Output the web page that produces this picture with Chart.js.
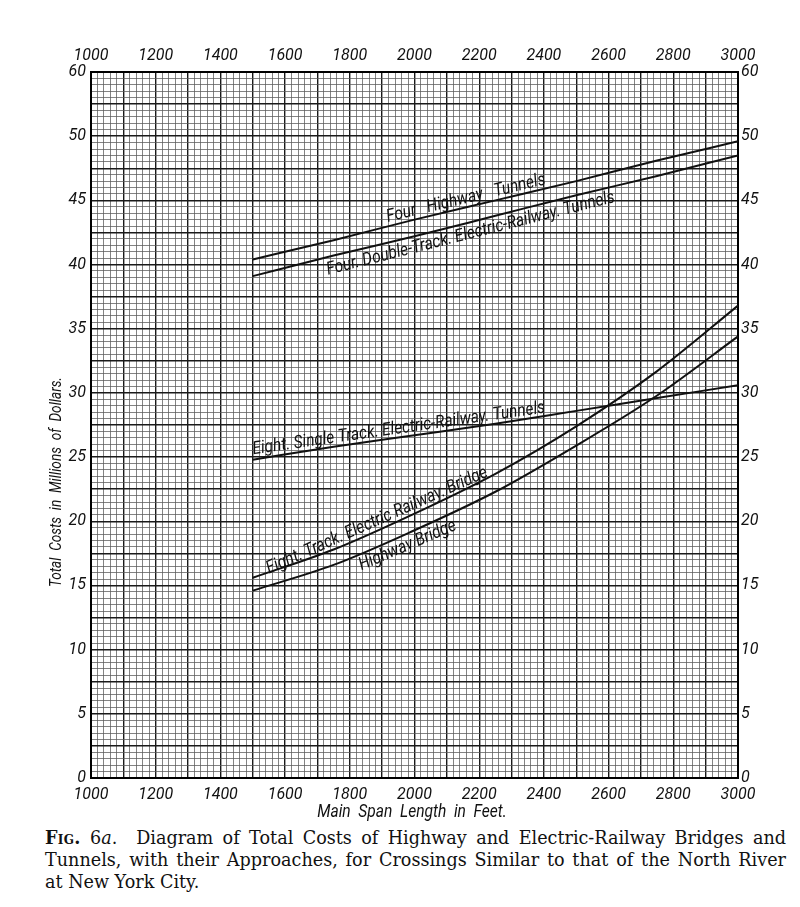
<!DOCTYPE html>
<html>
<head>
<meta charset="utf-8">
<title>Fig. 6a</title>
<script src="https://cdn.jsdelivr.net/npm/chart.js@4.4.1/dist/chart.umd.min.js"></script>
<style>
  html, body { margin: 0; padding: 0; background: #fff; }
  #wrap { position: relative; width: 800px; height: 826px; }
  #caption {
    position: absolute; left: 45px; top: 827px; width: 741px;
    font-family: 'DejaVu Serif', 'Liberation Serif', serif;
    font-size: 17.6px; line-height: 22px; color: #111;
  }
  #caption div { text-align: justify; text-align-last: justify; white-space: nowrap; }
  #caption div.last { text-align-last: left; }
  .fig { font-variant: small-caps; font-weight: bold; letter-spacing: 0.3px; }
</style>
</head>
<body>
<div id="wrap"><canvas id="chart" width="800" height="826"></canvas></div>
<div id="caption">
  <div><span class="fig">Fig.</span> 6<i>a</i>.&nbsp; Diagram of Total Costs of Highway and Electric-Railway Bridges and</div>
  <div>Tunnels, with their Approaches, for Crossings Similar to that of the North River</div>
  <div class="last">at New York City.</div>
</div>

<script>
// main span length (feet) where values were read
const spanFeet = [1500, 1750, 2000, 2250, 2500, 2750, 3000];

// total costs, millions of dollars
const fourHighwayTunnels      = [40.4, 41.9, 43.5, 45.0, 46.5, 48.1, 49.6];
const fourDoubleTrackTunnels  = [39.1, 40.7, 42.2, 43.8, 45.4, 46.9, 48.5];
const eightSingleTrackTunnels = [24.8, 25.8, 26.7, 27.6, 28.6, 29.6, 30.6];
const eightTrackRailwayBridge = [15.6, 17.8, 20.6, 23.7, 27.4, 31.7, 36.8];
const highwayBridge           = [14.6, 16.6, 19.3, 22.3, 25.9, 29.8, 34.4];

const seriesNames = [
    'Four   Highway   Tunnels',
    'Four. Double-Track. Electric-Railway. Tunnels',
    'Eight. Single Track. Electric-Railway. Tunnels',
    'Eight. Track. Electric Railway. Bridge',
    'Highway Bridge'
];

// tick labels as printed (the top line of the paper is 55 but carries "60")
const xTickValues = [1000, 1200, 1400, 1600, 1800, 2000, 2200, 2400, 2600, 2800, 3000];
const yTickValues = [0, 5, 10, 15, 20, 25, 30, 35, 40, 45, 50, 55];
const yTickLabels = ['0', '5', '10', '15', '20', '25', '30', '35', '40', '45', '50', '60'];

// where along each curve its name is lettered (feet) and on which side
const labelAt   = [2165, 2165, 1955, 1895, 1965];
const labelSide = ['above', 'below', 'above', 'above', 'below'];

const handFont = "Roboto, 'DejaVu Sans', sans-serif";

function toPoints(values) {
    return spanFeet.map((x, i) => ({ x: x, y: values[i] }));
}

const allSeries = [fourHighwayTunnels, fourDoubleTrackTunnels, eightSingleTrackTunnels,
                   eightTrackRailwayBridge, highwayBridge];

const datasets = allSeries.map((vals, i) => ({
    label: seriesNames[i],
    data: toPoints(vals),
    borderColor: '#111',
    borderWidth: 2,
    pointRadius: 0,
    fill: false,
    cubicInterpolationMode: 'monotone'
}));

function xLabel(v) { return xTickValues.includes(v) ? String(v) : ''; }
function yLabel(v) {
    const i = yTickValues.indexOf(v);
    return i >= 0 ? yTickLabels[i] : '';
}

const tickFont = { family: handFont, style: 'italic', size: 16 };

// narrow hand lettering
function squeezedText(ctx, text, x, y, sx) {
    ctx.save();
    ctx.translate(x, y);
    ctx.scale(sx, 1);
    ctx.fillText(text, 0, 0);
    ctx.restore();
}

const letteringPlugin = {
    id: 'lettering',
    afterDatasetsDraw(chart) {
        const ctx = chart.ctx;
        const xs = chart.scales.x;
        ctx.save();
        ctx.fillStyle = '#111';

        ctx.font = 'italic 19px ' + handFont;
        ctx.textAlign = 'center';
        ctx.textBaseline = 'middle';
        squeezedText(ctx, 'Main  Span  Length  in  Feet.', 412, 812, 0.82);

        ctx.save();
        ctx.translate(57, 482);
        ctx.rotate(-Math.PI / 2);
        ctx.font = 'italic 17px ' + handFont;
        squeezedText(ctx, 'Total  Costs  in  Millions  of  Dollars.', 0, 0, 0.8);
        ctx.restore();

        ctx.font = 'italic 18px ' + handFont;
        ctx.textBaseline = 'alphabetic';
        chart.data.datasets.forEach((ds, i) => {
            const pts = chart.getDatasetMeta(i).data;
            const px = xs.getPixelForValue(labelAt[i]);
            let k = 0;
            while (k < pts.length - 2 && pts[k + 1].x < px) k++;
            const a = pts[k], b = pts[k + 1];
            const t = (px - a.x) / (b.x - a.x);
            const py = a.y + t * (b.y - a.y);
            const ang = Math.atan2(b.y - a.y, b.x - a.x);
            ctx.save();
            ctx.translate(px, py);
            ctx.rotate(ang);
            ctx.textAlign = 'center';
            if (labelSide[i] === 'above') {
                squeezedText(ctx, ds.label, 0, -4, 0.86);
            } else {
                squeezedText(ctx, ds.label, 0, 16, 0.86);
            }
            ctx.restore();
        });
        ctx.restore();
    }
};

function isMult(v, m) {
    const r = v / m;
    return Math.abs(r - Math.round(r)) < 1e-6;
}

const xGrid = {
    color: c => (c.tick && isMult(c.tick.value, 100) ? '#1a1a1a' : '#5a5a5a'),
    lineWidth: c => (c.tick && isMult(c.tick.value, 100) ? 1.4 : 0.75),
    drawTicks: false
};
const yGrid = {
    color: c => (c.tick && isMult(c.tick.value, 2.5) ? '#1a1a1a' : '#5a5a5a'),
    lineWidth: c => (c.tick && isMult(c.tick.value, 2.5) ? 1.4 : 0.75),
    drawTicks: false
};

const ctx = document.getElementById('chart').getContext('2d');
const myChart = new Chart(ctx, {
    type: 'line',
    data: { datasets: datasets },
    options: {
        responsive: false,
        animation: false,
        events: [],
        layout: { padding: 0 },
        plugins: {
            legend: { display: false },
            tooltip: { enabled: false },
            title: { display: false }
        },
        scales: {
            x: {
                type: 'linear', position: 'bottom', min: 1000, max: 3000,
                grid: xGrid,
                border: { display: true, color: '#000', width: 2 },
                ticks: { stepSize: 20, autoSkip: false, maxRotation: 0, padding: 7,
                         color: '#111', font: tickFont, callback: xLabel },
                afterFit: s => { s.height = 826 - 778; }
            },
            x2: {
                type: 'linear', position: 'top', min: 1000, max: 3000,
                grid: { drawOnChartArea: false, drawTicks: false },
                border: { display: true, color: '#000', width: 2 },
                ticks: { stepSize: 20, autoSkip: false, maxRotation: 0, padding: 6,
                         color: '#111', font: tickFont, callback: xLabel },
                afterFit: s => { s.height = 72; }
            },
            y: {
                type: 'linear', position: 'left', min: 0, max: 55,
                grid: yGrid,
                border: { display: true, color: '#000', width: 2 },
                ticks: { stepSize: 0.5, autoSkip: false, padding: 5,
                         color: '#111', font: tickFont, callback: yLabel },
                afterFit: s => { s.width = 91; }
            },
            y2: {
                type: 'linear', position: 'right', min: 0, max: 55,
                grid: { drawOnChartArea: false, drawTicks: false },
                border: { display: true, color: '#000', width: 2 },
                ticks: { stepSize: 0.5, autoSkip: false, padding: 3,
                         color: '#111', font: tickFont, callback: yLabel },
                afterFit: s => { s.width = 800 - 738; }
            }
        }
    },
    plugins: [letteringPlugin]
});
</script>
</body>
</html>
